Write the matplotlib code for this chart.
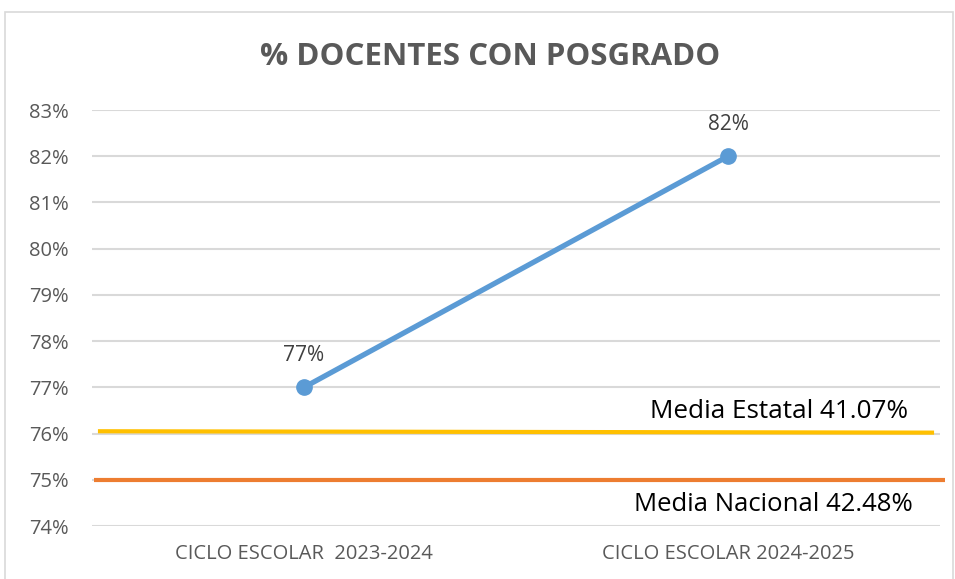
import matplotlib
matplotlib.use("Agg")
import matplotlib.pyplot as plt
from matplotlib.patches import Rectangle

categories = ["CICLO ESCOLAR  2023-2024", "CICLO ESCOLAR 2024-2025"]
values = [77, 82]
value_labels = ["77%", "82%"]
yticks = [74, 75, 76, 77, 78, 79, 80, 81, 82, 83]
estatal_y = [76.05, 76.02]
nacional_y = [75.0, 75.0]
estatal_label = "Media Estatal 41.07%"
nacional_label = "Media Nacional 42.48%"
title = "% DOCENTES CON POSGRADO"

plt.rcParams['font.family'] = ['Open Sans', 'DejaVu Sans']

W, H = 955, 579
fig = plt.figure(figsize=(W/100, H/100), dpi=100)
fig.patches.append(Rectangle((5/W, -0.01), (953-5)/W, (H-12)/H + 0.01, transform=fig.transFigure,
                             fill=False, edgecolor="#d9d9d9", lw=1.2))

ax = fig.add_axes([92/W, (H-526)/H, (940-92)/W, (526-110)/H])
ax.set_xlim(-0.5, 1.5)
ax.set_ylim(74, 83)
ax.set_yticks(yticks)
ax.set_yticklabels([f"{v}%" for v in yticks])
ax.grid(axis='y', color="#d9d9d9", lw=1.5)
ax.set_axisbelow(True)
for s in ax.spines.values():
    s.set_visible(False)
ax.tick_params(axis='both', length=0, colors="#595959", labelsize=14.5)
ax.tick_params(axis='y', pad=17)
ax.tick_params(axis='x', pad=13)
ax.set_xticks([0, 1])
ax.set_xticklabels(categories, fontsize=14.5)

# reference lines
ax.plot([-0.486, 1.486], estatal_y, color="#ffc000", lw=3, solid_capstyle='butt', zorder=3)
ax.plot([-0.495, 1.512], nacional_y, color="#ed7d31", lw=3, solid_capstyle='butt', zorder=3, clip_on=False)

ax.plot([0, 1], values, color="#5b9bd5", lw=3.8, marker='o', markersize=11, zorder=4)
for x, v, lab in zip([0, 1], values, value_labels):
    ax.annotate(lab, (x, v), xytext=(0, 15), textcoords='offset points', ha='center', va='bottom',
                fontsize=15, color="#404040")

ax.text(1.12, 76.34, estatal_label, ha='center', va='baseline', fontsize=18.8, color="black")
ax.text(1.108, 74.32, nacional_label, ha='center', va='baseline', fontsize=18.5, color="black")

fig.text(490/W, (H-57)/H, title, ha='center', va='center', fontsize=22.5, fontweight='bold', color="#595959")

fig.savefig("out.png", dpi=100)
